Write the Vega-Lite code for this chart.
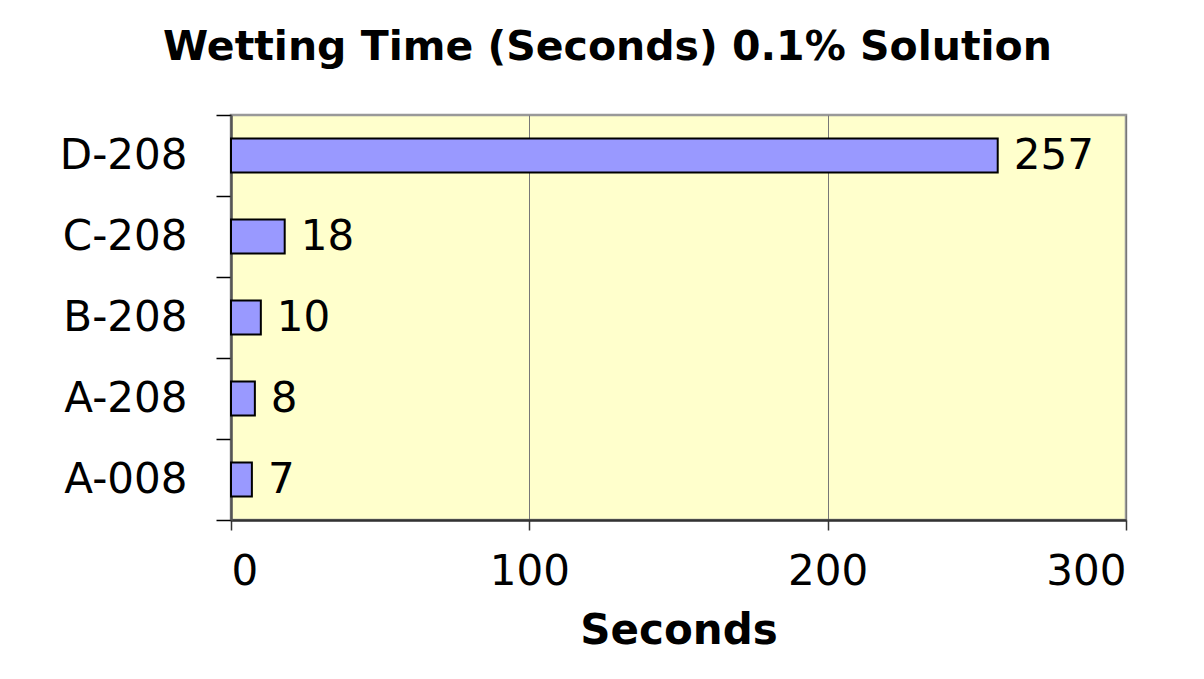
{
  "$schema": "https://vega.github.io/schema/vega-lite/v6.json",
  "autosize": "none",
  "width": 895,
  "height": 405,
  "padding": {"left": 231, "top": 115, "right": 78, "bottom": 159},
  "background": "white",
  "title": {
    "text": "Wetting Time (Seconds) 0.1% Solution",
    "font": "DejaVu Sans",
    "fontSize": 41,
    "fontWeight": "bold",
    "color": "black",
    "anchor": "middle",
    "offset": 25,
    "dx": -71
  },
  "data": {
    "values": [
      {"sample": "D-208", "seconds": 257},
      {"sample": "C-208", "seconds": 18},
      {"sample": "B-208", "seconds": 10},
      {"sample": "A-208", "seconds": 8},
      {"sample": "A-008", "seconds": 7}
    ]
  },
  "encoding": {
    "y": {
      "field": "sample",
      "type": "nominal",
      "sort": ["D-208", "C-208", "B-208", "A-208", "A-008"],
      "scale": {"paddingInner": 0, "paddingOuter": 0},
      "axis": {
        "title": null,
        "labelFont": "DejaVu Sans",
        "labelFontSize": 42,
        "labelColor": "black",
        "labelPadding": 29,
        "tickSize": 15,
        "tickColor": "black",
        "tickWidth": 1.5,
        "tickBand": "extent",
        "domainColor": "#555555",
        "domainWidth": 2.5
      }
    },
    "x": {
      "field": "seconds",
      "type": "quantitative",
      "scale": {"domain": [0, 300], "nice": false},
      "axis": {
        "values": [0, 100, 200, 300],
        "title": "Seconds",
        "titleFont": "DejaVu Sans",
        "titleFontSize": 42,
        "titleFontWeight": "bold",
        "titleColor": "black",
        "titlePadding": 18,
        "labelFont": "DejaVu Sans",
        "labelFontSize": 42,
        "labelColor": "black",
        "labelPadding": 21,
        "tickSize": 10,
        "tickColor": "#333333",
        "tickWidth": 1.5,
        "domainColor": "#333333",
        "domainWidth": 2.5,
        "grid": true,
        "gridColor": "#777777",
        "gridWidth": 1
      }
    }
  },
  "layer": [
    {
      "mark": {"type": "bar", "height": {"band": 0.42}, "fill": "#9999FF", "stroke": "black", "strokeWidth": 2}
    },
    {
      "mark": {"type": "text", "align": "left", "baseline": "middle", "dx": 16, "font": "DejaVu Sans", "fontSize": 42, "color": "black"},
      "encoding": {"text": {"field": "seconds", "type": "quantitative"}}
    }
  ],
  "config": {
    "view": {"fill": "#FFFFCC", "stroke": "#999999", "strokeWidth": 2.5}
  }
}
